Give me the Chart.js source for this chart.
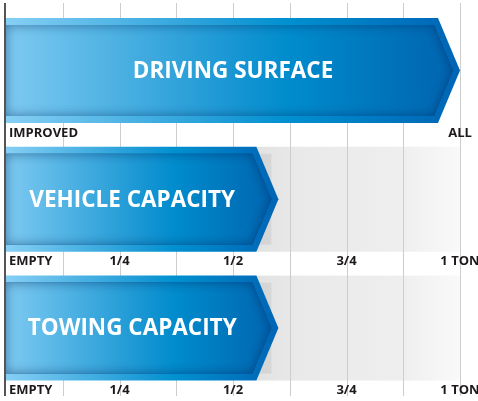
<!DOCTYPE html>
<html>
<head>
<meta charset="utf-8">
<script src="https://cdn.jsdelivr.net/npm/chart.js@4.4.1/dist/chart.umd.min.js"></script>
<style>
  html, body { margin: 0; padding: 0; background: #fff; }
  #wrap { width: 478px; height: 401px; position: relative; }
</style>
</head>
<body>
<div id="wrap"><canvas id="bars"></canvas></div>
<script>
// data
const categories = ['DRIVING SURFACE', 'VEHICLE CAPACITY', 'TOWING CAPACITY'];
const values = [1, 0.6, 0.6];
const tickValues = [0, 0.25, 0.5, 0.75, 1];
const surfaceTicks = ['IMPROVED', '', '', '', 'ALL'];
const capacityTicks = ['EMPTY', '1/4', '1/2', '3/4', '1 TON'];
const rowTicks = [surfaceTicks, capacityTicks, capacityTicks];

const POINT = 22; // arrow head length in px

function addArrow(ctx, left, right, top, bottom, point) {
  const mid = (top + bottom) / 2;
  ctx.moveTo(left, top);
  ctx.lineTo(right - point, top);
  ctx.lineTo(right, mid);
  ctx.lineTo(right - point, bottom);
  ctx.lineTo(left, bottom);
  ctx.closePath();
}

function blue(ctx, x0, x1, stops) {
  const g = ctx.createLinearGradient(x0, 0, x1, 0);
  stops.forEach(s => g.addColorStop(s[0], s[1]));
  return g;
}

const arrowPlugin = {
  id: 'arrows',
  beforeDatasetsDraw(chart) {
    const ctx = chart.ctx;
    const xs = chart.scales.x;
    const meta = chart.getDatasetMeta(0);
    const maxPx = xs.getPixelForValue(xs.max);
    ctx.save();
    // grey tracks behind the shorter arrows
    meta.data.forEach((bar) => {
      const top = bar.y - bar.height / 2, bottom = bar.y + bar.height / 2;
      const start = bar.x - POINT;
      if (start >= maxPx - POINT) return;
      const g = ctx.createLinearGradient(start, 0, maxPx, 0);
      g.addColorStop(0, '#e2e2e2');
      g.addColorStop(0.2, '#e9e9e9');
      g.addColorStop(0.7, '#eeeeee');
      g.addColorStop(1, '#f9f9f9');
      ctx.fillStyle = g;
      ctx.fillRect(start, top, maxPx - start, bottom - top);
      ctx.fillStyle = 'rgba(0,0,0,0.06)';
      ctx.fillRect(start, top + 7, 15, bottom - top - 14);
    });
    // vertical grid from the x scale ticks
    ctx.strokeStyle = '#cdcdcd';
    ctx.lineWidth = 1;
    xs.ticks.forEach((t) => {
      if (t.value === xs.min) return;
      const px = Math.round(xs.getPixelForValue(t.value)) + 0.5;
      ctx.beginPath();
      ctx.moveTo(px, 3);
      ctx.lineTo(px, 396);
      ctx.stroke();
    });
    ctx.restore();
  },
  afterDatasetsDraw(chart) {
    const ctx = chart.ctx;
    const xs = chart.scales.x;
    const meta = chart.getDatasetMeta(0);
    ctx.save();
    meta.data.forEach((bar, i) => {
      const left = bar.base, right = bar.x;
      const top = bar.y - bar.height / 2, bottom = bar.y + bar.height / 2;
      // outer arrow
      ctx.beginPath();
      addArrow(ctx, left, right, top, bottom, POINT);
      ctx.fillStyle = blue(ctx, left, right, [[0, '#86cff4'], [0.5, '#1a9ad6'], [0.62, '#0090d0'], [1, '#0064b4']]);
      ctx.fill();
      // inner body
      const it = top + 7, ib = bottom - 7;
      const ir = right - 7;
      ctx.save();
      ctx.beginPath();
      addArrow(ctx, left, ir, it, ib, POINT - 3);
      ctx.fillStyle = blue(ctx, left, right, [[0, '#7ecaf1'], [0.5, '#1896d3'], [0.62, '#008ccd'], [1, '#0062ae']]);
      ctx.fill();
      ctx.clip();
      // inner shadow
      ctx.shadowColor = 'rgba(0,35,90,0.5)';
      ctx.shadowBlur = 12;
      ctx.beginPath();
      ctx.rect(left - 60, it - 60, ir - left + 120, ib - it + 120);
      addArrow(ctx, left, ir, it, ib, POINT - 3);
      ctx.fillStyle = '#0a3c78';
      ctx.fill('evenodd');
      ctx.restore();

      // label inside the arrow
      const full = chart.data.datasets[0].data[i] >= xs.max;
      const cx = full ? (left + right) / 2 : (left + right - POINT) / 2 + 1;
      ctx.fillStyle = '#ffffff';
      ctx.font = 'bold 22.5px "Open Sans", sans-serif';
      ctx.textAlign = 'center';
      ctx.textBaseline = 'middle';
      ctx.fillText(chart.data.labels[i], cx, bar.y + 1);

      // tick labels under each arrow
      ctx.fillStyle = '#1e1a1b';
      ctx.font = 'bold 13px "Open Sans", sans-serif';
      rowTicks[i].forEach((txt, j) => {
        if (!txt) return;
        const px = xs.getPixelForValue(tickValues[j]);
        ctx.textAlign = j === 0 ? 'left' : 'center';
        ctx.fillText(txt, j === 0 ? px + 3 : px, bottom + 10);
      });
    });
    // left axis line
    const x0 = xs.getPixelForValue(xs.min);
    ctx.fillStyle = '#555555';
    ctx.fillRect(x0 - 2, 3, 2, 393);
    ctx.restore();
  }
};

new Chart(document.getElementById('bars'), {
  type: 'bar',
  data: {
    labels: categories,
    datasets: [{
      data: values,
      backgroundColor: 'rgba(0,0,0,0)',
      borderWidth: 0,
      barThickness: 105
    }]
  },
  options: {
    indexAxis: 'y',
    responsive: true,
    maintainAspectRatio: false,
    animation: false,
    events: [],
    layout: { padding: { left: 6, right: 18, top: 6, bottom: 8.5 } },
    plugins: { legend: { display: false }, tooltip: { enabled: false } },
    scales: {
      x: { display: false, min: 0, max: 1, ticks: { stepSize: 0.125 } },
      y: { display: false }
    }
  },
  plugins: [arrowPlugin]
});
</script>
</body>
</html>
